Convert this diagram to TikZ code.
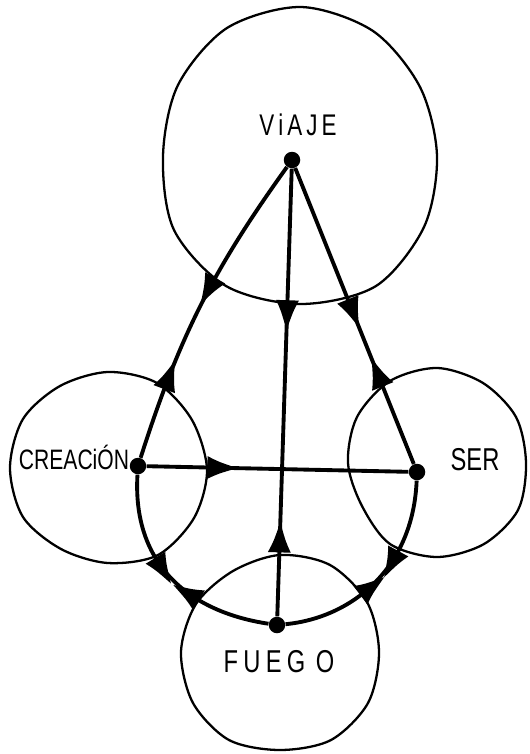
\documentclass[tikz,border=0pt]{standalone}
\usepackage{fontspec}
\newfontfamily\handfont[FakeStretch=0.75]{Liberation Sans}
\usepackage{tikz}
\usetikzlibrary{decorations.markings}

\begin{document}
\begin{tikzpicture}[
  x=0.02cm, y=-0.02cm,
  zone/.style={line width=1.3pt},
  dot/.style={circle,fill,inner sep=0pt,minimum size=0.33cm},
  word/.style={font=\handfont\fontsize{#1}{#1}\selectfont,inner sep=0pt,anchor=base},
  link/.style={line width=2.2pt},
  tipout/.style={postaction={decorate,decoration={markings,mark=at position #1 with {\fill (0pt,-6.5pt) .. controls (6pt,-3.5pt) .. (17pt,0pt) .. controls (6pt,3.5pt) .. (0pt,6.5pt) -- cycle;}}}},
  tipin/.style={postaction={decorate,decoration={markings,mark=at position #1 with {\fill (0pt,-6.5pt) .. controls (-6pt,-3.5pt) .. (-17pt,0pt) .. controls (-6pt,3.5pt) .. (0pt,6.5pt) -- cycle;}}}}
]
\useasboundingbox (0,0) rectangle (529,754);

% the four circles, drawn by hand
\draw[zone] plot[smooth cycle,tension=0.52] coordinates {(437,156) (424,227) (376,286) (301,304) (226,286) (174,230) (163,156) (178,85) (227,28) (301,7) (373,31) (420,87)};
\draw[zone] plot[smooth cycle,tension=0.52] coordinates {(207,470) (194,518) (158,555) (108,563) (61,549) (23,517) (10,468) (23,419) (60,386) (108,372) (157,383) (192,420)};
\draw[zone] plot[smooth cycle,tension=0.52] coordinates {(526,463) (518,510) (484,544) (437,557) (390,544) (362,506) (348,463) (357,417) (390,381) (437,368) (483,383) (516,417)};
\draw[zone] plot[smooth cycle,tension=0.52] coordinates {(379,652) (368,703) (331,740) (280,750) (229,740) (193,703) (181,652) (196,604) (233,571) (280,555) (330,565) (367,602)};

\node[dot] (viaje) at (292,160) {};
\node[dot] (creacion) at (138,466) {};
\node[dot] (ser) at (417,472) {};
\node[dot] (fuego) at (277,625) {};

\node[word=17] (viajetxt) at (298,135) {V\hspace{2.3pt}i\hspace{2.3pt}A\hspace{2.3pt}J\hspace{2.3pt}E};
\node[word=16] (creaciontxt) at (74,469) {CREACiÓN};
\node[word=18] (sertxt) at (475,470) {SER};
\node[word=18] (fuegotxt) at (279,672) {F\hspace{3pt}U\hspace{3pt}E\hspace{3pt}G\hspace{6pt}O};

\draw[link,tipout=0.404,tipin=0.778] (viaje) to[bend right=9] (creacion);
\draw[link,tipout=0.444,tipin=0.738] (viaje) -- (ser);
\draw[link,tipout=0.294,tipin=0.857] (viaje) -- (fuego);
\draw[link,tipout=0.232] (creacion) -- (ser);
\draw[link,tipout=0.39,tipin=0.667] (creacion) .. controls (132,565) and (190,612) .. (fuego);
\draw[link,tipout=0.344,tipin=0.619] (ser) .. controls (413,570) and (350,618) .. (fuego);
\end{tikzpicture}
\end{document}
